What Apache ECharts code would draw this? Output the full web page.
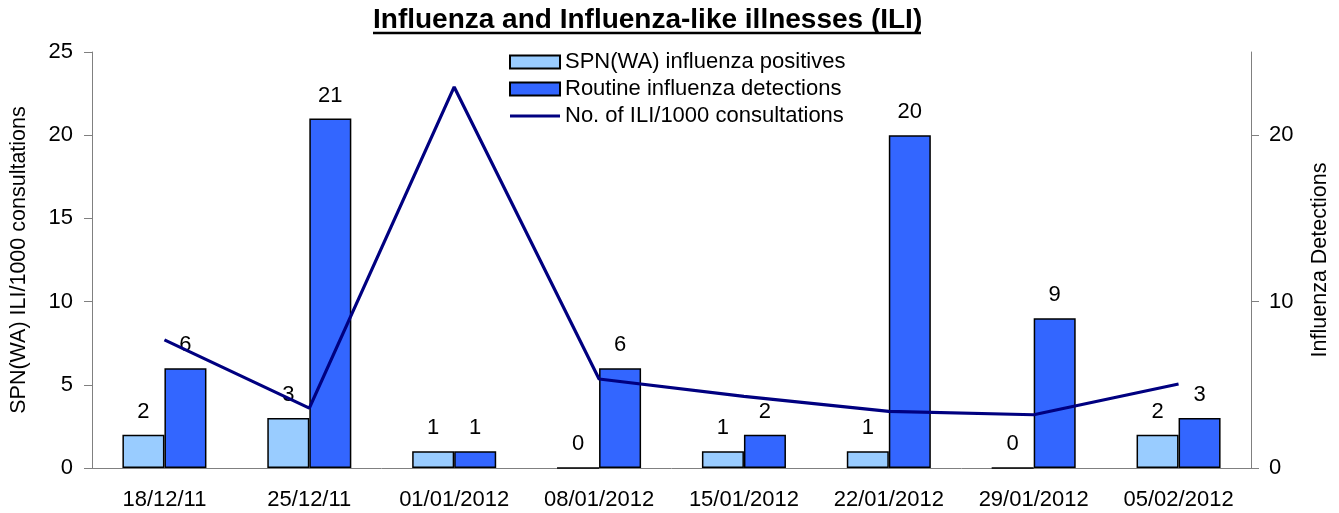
<!DOCTYPE html>
<html>
<head>
<meta charset="utf-8">
<script src="https://cdn.jsdelivr.net/npm/echarts@6/dist/echarts.min.js"></script>
<style>
    html, body { margin: 0; padding: 0; background: #fff; }
    #chart { width: 1339px; height: 513px; }
</style>
</head>
<body>
<div id="chart"></div>
<script>
    // weeks
    var weeks = ['18/12/11', '25/12/11', '01/01/2012', '08/01/2012', '15/01/2012', '22/01/2012', '29/01/2012', '05/02/2012'];
    // SPN(WA) influenza positives
    var spnPositives = [2, 3, 1, 0, 1, 1, 0, 2];
    // routine influenza detections
    var routineDetections = [6, 21, 1, 6, 2, 20, 9, 3];
    // ILI per 1000 consultations
    var iliRate = [7.7, 3.6, 22.9, 5.35, 4.3, 3.4, 3.2, 5.05];
    var leftTicks = [0, 5, 10, 15, 20, 25];
    var rightTicks = [0, 10, 20];

    var font = 'Liberation Sans, Arial, sans-serif';
    var chart = echarts.init(document.getElementById('chart'));
    var barLabel = {
        show: true,
        position: 'top',
        distance: 12,
        color: '#000',
        fontSize: 22,
        fontFamily: font
    };
    var option = {
        backgroundColor: '#fff',
        animation: false,
        textStyle: { fontFamily: font },
        title: {
            text: 'Influenza and Influenza-like illnesses (ILI)',
            left: 368,
            top: 1,
            textStyle: { fontSize: 28, fontWeight: 'bold', color: '#000', fontFamily: font }
        },
        graphic: [{
            type: 'line',
            shape: { x1: 373, y1: 33, x2: 921, y2: 33 },
            style: { stroke: '#000', lineWidth: 2.5 }
        }],
        legend: {
            orient: 'vertical',
            left: 504,
            top: 45,
            itemWidth: 50,
            itemHeight: 13,
            itemGap: 3,
            textStyle: { fontSize: 22, lineHeight: 24, color: '#000', fontFamily: font },
            data: [
                { name: 'SPN(WA) influenza positives', icon: 'rect' },
                { name: 'Routine influenza detections', icon: 'rect' },
                { name: 'No. of ILI/1000 consultations', icon: 'path://M0,0L50,0L50,3L0,3Z' }
            ]
        },
        grid: { left: 90, right: 87, top: 52, bottom: 45 },
        xAxis: {
            type: 'category',
            data: weeks,
            axisLine: { lineStyle: { color: '#808080', width: 1 } },
            axisTick: { length: 8, lineStyle: { color: '#808080' } },
            axisLabel: { color: '#000', fontSize: 22, margin: 21, interval: 0 }
        },
        yAxis: [{
            type: 'value',
            min: 0,
            max: 25,
            interval: 5,
            name: 'SPN(WA) ILI/1000 consultations',
            nameLocation: 'middle',
            nameGap: 62,
            nameTextStyle: { fontSize: 21.5, color: '#000' },
            axisLine: { show: true, lineStyle: { color: '#808080' } },
            axisTick: { show: true, length: 8, lineStyle: { color: '#808080' } },
            axisLabel: { color: '#000', fontSize: 22, margin: 19, customValues: leftTicks },
            splitLine: { show: false }
        }, {
            type: 'value',
            min: 0,
            max: 25,
            interval: 5,
            name: 'Influenza Detections',
            nameLocation: 'middle',
            nameGap: 58,
            nameTextStyle: { fontSize: 21.5, color: '#000' },
            axisLine: { show: true, lineStyle: { color: '#808080' } },
            axisTick: { show: true, length: 8, lineStyle: { color: '#808080' }, customValues: rightTicks },
            axisLabel: { color: '#000', fontSize: 22, margin: 18, customValues: rightTicks },
            splitLine: { show: false }
        }],
        series: [{
            name: 'SPN(WA) influenza positives',
            type: 'bar',
            yAxisIndex: 1,
            data: spnPositives,
            barGap: '0%',
            barCategoryGap: '42%',
            itemStyle: { color: '#99CCFF', borderColor: '#000', borderWidth: 1.5 },
            label: barLabel
        }, {
            name: 'Routine influenza detections',
            type: 'bar',
            yAxisIndex: 1,
            data: routineDetections,
            itemStyle: { color: '#3366FF', borderColor: '#000', borderWidth: 1.5 },
            label: barLabel
        }, {
            name: 'No. of ILI/1000 consultations',
            type: 'line',
            yAxisIndex: 0,
            data: iliRate,
            symbol: 'none',
            z: 3,
            lineStyle: { color: '#000080', width: 3.2 },
            itemStyle: { color: '#000080' }
        }]
    };
    chart.setOption(option);
</script>
</body>
</html>
